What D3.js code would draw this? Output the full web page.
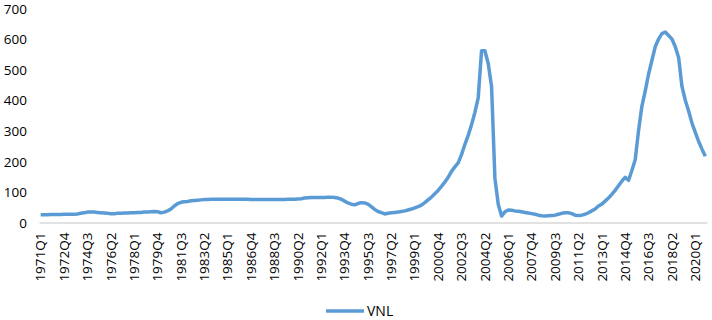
<!DOCTYPE html>
<html>
<head>
<meta charset="utf-8">
<script src="https://cdn.jsdelivr.net/npm/d3@7"></script>
<style>
  body { margin: 0; background: #fff; }
  svg text { font-family: "Open Sans", "Liberation Sans", sans-serif; fill: #000; }
</style>
</head>
<body>
<svg id="chart" width="712" height="320"></svg>
<script>
const width = 712;
const height = 320;

// 季度类别 1971Q1 - 2020Q4
const quarters = [];
for (let y = 1971; y <= 2020; y++) {
  for (let q = 1; q <= 4; q++) quarters.push(y + "Q" + q);
}

// 横轴显示的标签（每7个季度一个）
const xTickLabels = [
  "1971Q1", "1972Q4", "1974Q3", "1976Q2", "1978Q1", "1979Q4", "1981Q3",
  "1983Q2", "1985Q1", "1986Q4", "1988Q3", "1990Q2", "1992Q1", "1993Q4",
  "1995Q3", "1997Q2", "1999Q1", "2000Q4", "2002Q3", "2004Q2", "2006Q1",
  "2007Q4", "2009Q3", "2011Q2", "2013Q1", "2014Q4", "2016Q3", "2018Q2", "2020Q1"
];

const yTicks = [0, 100, 200, 300, 400, 500, 600, 700];

const seriesName = "VNL";

// VNL 数值
const vnl = [
  25, 25, 25, 26, 26, 26, 26, 27, 27, 27,   // 1971Q1-1973Q2
  27, 28, 30, 32, 34, 34, 34, 33, 32, 31,   // 1973Q3-1975Q4
  30, 29, 29, 30, 30, 31, 31, 32, 32, 33,   // 1976Q1-1978Q2
  33, 34, 34, 35, 36, 35, 32, 34, 38, 44,   // 1978Q3-1980Q4
  54, 62, 66, 68, 69, 71, 72, 73, 74, 75,   // 1981Q1-1983Q2
  75, 76, 76, 76, 76, 76, 76, 76, 76, 76,   // 1983Q3-1985Q4
  76, 76, 76, 75, 75, 75, 75, 75, 75, 75,   // 1986Q1-1988Q2
  75, 75, 75, 75, 76, 76, 76, 77, 78, 80,   // 1988Q3-1990Q4
  81, 82, 82, 82, 82, 82, 83, 83, 82, 80,   // 1991Q1-1993Q2
  76, 70, 64, 60, 58, 62, 65, 64, 60, 52,   // 1993Q3-1995Q4
  43, 36, 32, 28, 30, 32, 33, 34, 36, 38,   // 1996Q1-1998Q2
  41, 44, 48, 52, 57, 65, 74, 83, 94, 105,  // 1998Q3-2000Q4
  118, 132, 148, 167, 182, 195, 222, 255, 285, 320, // 2001Q1-2003Q2
  360, 408, 562, 562, 520, 445, 145, 60, 21, 35,    // 2003Q3-2005Q4
  41, 40, 38, 37, 35, 33, 31, 29, 27, 24,   // 2006Q1-2008Q2
  22, 21, 22, 23, 24, 27, 30, 32, 32, 29,   // 2008Q3-2010Q4
  24, 23, 24, 27, 32, 38, 44, 54, 60, 70,   // 2011Q1-2013Q2
  80, 92, 105, 120, 135, 148, 138, 170, 205, 300,   // 2013Q3-2015Q4
  380, 430, 485, 530, 575, 600, 618, 623, 612, 600, // 2016Q1-2018Q2
  575, 540, 445, 400, 365, 325, 295, 265, 240, 217  // 2018Q3-2020Q4
];

const svg = d3.select("#chart");

const x = d3.scaleBand()
  .domain(quarters)
  .range([39, 707])
  .padding(0);

const y = d3.scaleLinear()
  .domain([0, 700])
  .range([222.5, 8.5]);

// 纵轴
const yAxis = svg.append("g")
  .attr("transform", "translate(27,0)")
  .call(d3.axisLeft(y).tickValues(yTicks).tickSize(0).tickPadding(0));
yAxis.select(".domain").remove();
yAxis.selectAll("text")
  .style("font-size", "13.5px")
  .attr("dy", "0.35em");

// 横轴
const xAxis = svg.append("g")
  .attr("transform", `translate(0,${y(0)})`)
  .call(d3.axisBottom(x).tickValues(xTickLabels).tickSize(0).tickPadding(0));
xAxis.select(".domain")
  .attr("stroke", "#d9d9d9")
  .attr("stroke-width", 1.5);
xAxis.selectAll("text")
  .style("font-size", "13.5px")
  .attr("text-anchor", "end")
  .attr("transform", "rotate(-90)")
  .attr("x", -10)
  .attr("y", 0)
  .attr("dy", "0.35em");

// 折线
const line = d3.line()
  .x((d, i) => x(quarters[i]) + x.bandwidth() / 2)
  .y(d => y(d));

svg.append("path")
  .datum(vnl)
  .attr("fill", "none")
  .attr("stroke", "#5b9bd5")
  .attr("stroke-width", 3.5)
  .attr("stroke-linejoin", "round")
  .attr("d", line);

// 图例
const legend = svg.append("g").attr("transform", "translate(326,311)");
legend.append("line")
  .attr("x1", 0).attr("x2", 38)
  .attr("y1", 0).attr("y2", 0)
  .attr("stroke", "#5b9bd5")
  .attr("stroke-width", 3.5);
legend.append("text")
  .attr("x", 41)
  .attr("y", 0)
  .attr("dy", "0.35em")
  .style("font-size", "14px")
  .text(seriesName);
</script>
</body>
</html>
